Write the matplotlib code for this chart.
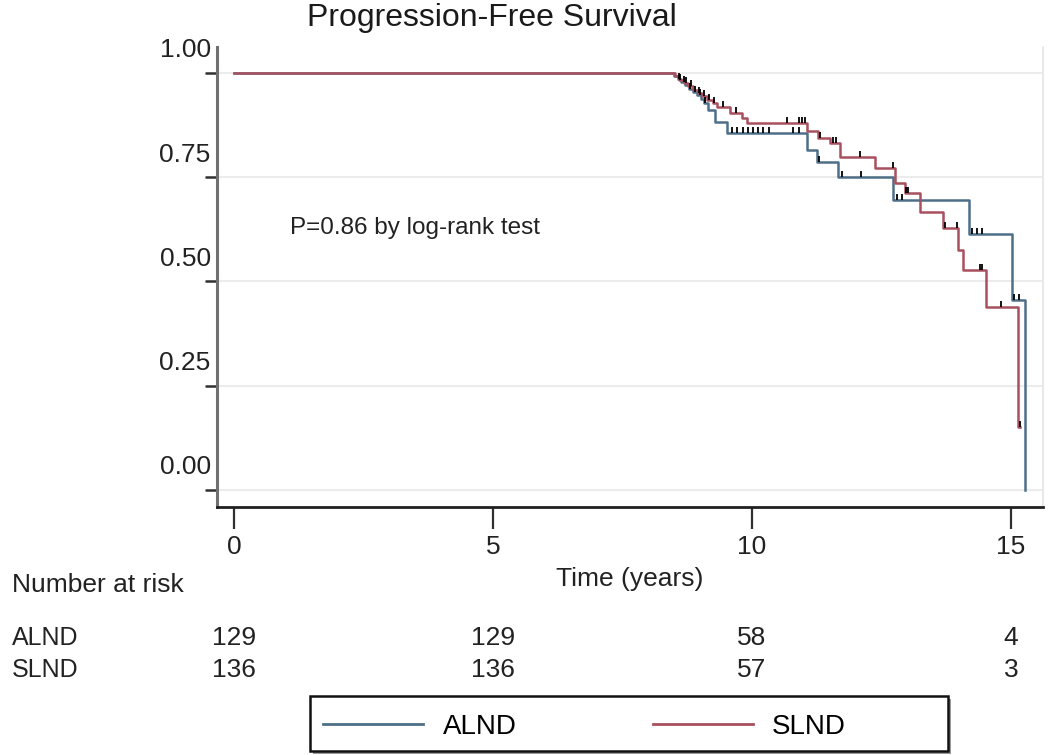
import numpy as np
import matplotlib
matplotlib.use("Agg")
import matplotlib.pyplot as plt
import matplotlib.transforms as mtransforms
from matplotlib.path import Path
from matplotlib.patches import Rectangle

plt.rcParams['font.family'] = ['Liberation Sans', 'DejaVu Sans']

# Kaplan-Meier steps (time in years, survival after the drop)
alnd_times = [8.50, 8.57, 8.63, 8.70, 8.78, 8.86, 8.94, 9.02, 9.08, 9.15, 9.29, 9.52,
              11.06, 11.25, 11.66, 12.72, 14.19, 15.02, 15.27]
alnd_surv = [0.992, 0.985, 0.977, 0.970, 0.962, 0.954, 0.946, 0.937, 0.928, 0.911, 0.882, 0.856,
             0.815, 0.787, 0.751, 0.695, 0.614, 0.456, 0.0]
alnd_end = 15.27
alnd_censor = [8.60, 8.68, 8.80, 8.90, 9.00, 9.10, 9.62, 9.72, 9.82, 9.92, 10.02, 10.12, 10.22,
               10.32, 10.80, 10.90, 11.30, 11.74, 12.10, 12.80, 12.90, 14.25, 14.35, 14.45,
               15.06, 15.16]

slnd_times = [8.52, 8.60, 8.68, 8.77, 8.86, 8.95, 9.04, 9.14, 9.24, 9.32, 9.57, 9.81, 9.90,
              11.06, 11.27, 11.51, 11.70, 12.37, 12.76, 12.95, 13.24, 13.69, 13.98, 14.07,
              14.52, 15.14]
slnd_surv = [0.992, 0.984, 0.976, 0.968, 0.960, 0.952, 0.944, 0.935, 0.927, 0.918, 0.904, 0.892,
             0.880, 0.861, 0.844, 0.832, 0.799, 0.772, 0.736, 0.712, 0.667, 0.628, 0.576, 0.528,
             0.439, 0.151]
slnd_end = 15.17
slnd_censor = [8.62, 8.72, 8.83, 8.97, 9.07, 9.17, 9.27, 9.45, 9.70, 10.67, 10.90, 10.96, 11.02,
               11.32, 11.56, 11.62, 12.08, 12.72, 12.97, 13.02, 13.73, 13.96, 14.40, 14.45,
               14.80, 15.17]

risk_times = [0, 5, 10, 15]
alnd_risk = [129, 129, 58, 4]
slnd_risk = [136, 136, 57, 3]

blue = '#4d6f88'
red = '#a8505f'
txt = '#222222'

fig = plt.figure(figsize=(10.5, 7.55), dpi=100)
ax = fig.add_axes([217 / 1050, 1 - 507 / 755, (1043 - 217) / 1050, (507 - 47) / 755])

tick_mark = Path([(0, 0), (0, 1)])


def draw_curve(times, surv, end, censor, color, label):
    t = np.concatenate([[0.0], times, [end]])
    s = np.concatenate([[1.0], surv, [surv[-1]]])
    ax.step(t, s, where='post', color=color, lw=1.8, label=label, zorder=3)
    idx = np.searchsorted(t, censor, side='right') - 1
    ax.plot(censor, s[idx], linestyle='none', marker=tick_mark, ms=9,
            mec='black', mew=1.3, zorder=4)


draw_curve(alnd_times, alnd_surv, alnd_end, alnd_censor, blue, 'ALND')
draw_curve(slnd_times, slnd_surv, slnd_end, slnd_censor, red, 'SLND')

ax.set_xlim(-0.33, 15.62)
ax.set_ylim(-0.041, 1.062)
ax.set_yticks([0, 0.25, 0.5, 0.75, 1.0])
ax.set_yticklabels(['0.00', '0.25', '0.50', '0.75', '1.00'])
ax.set_xticks([0, 5, 10, 15])
ax.grid(axis='y', color='#ececec', lw=1.5, zorder=0)
ax.grid(axis='x', visible=False)

ax.spines['top'].set_visible(False)
ax.spines['right'].set_color('#e4e4e4')
ax.spines['right'].set_linewidth(1.2)
ax.spines['left'].set_color('#707070')
ax.spines['left'].set_linewidth(2.2)
ax.spines['bottom'].set_color('#202020')
ax.spines['bottom'].set_linewidth(2.0)

ax.tick_params(axis='y', length=9, width=1.8, color='#303030', labelsize=19,
               labelcolor=txt, pad=2)
ax.tick_params(axis='x', length=16, width=1.6, color='#303030', labelsize=19,
               labelcolor=txt, pad=4)

# labels sit above their ticks in the original
shift = mtransforms.ScaledTranslation(0.09, 0.25, fig.dpi_scale_trans)
for lab in ax.get_yticklabels():
    lab.set_transform(lab.get_transform() + shift)

ax.set_xlabel('Time (years)', fontsize=19, color=txt, labelpad=6)

ax.text(1.08, 0.628, 'P=0.86 by log-rank test', fontsize=17.5, color=txt,
        ha='left', va='center')

fig.text(492 / 1050, 1 - 18 / 755, 'Progression-Free Survival', fontsize=23,
         ha='center', va='center', color='#1a1a1a')

# number at risk table
trans = mtransforms.blended_transform_factory(ax.transData, fig.transFigure)
fig.text(12 / 1050, 1 - 585 / 755, 'Number at risk', fontsize=19, ha='left',
         va='center', color=txt)
fig.text(12 / 1050, 1 - 638 / 755, 'ALND', fontsize=18, ha='left', va='center', color=txt)
fig.text(12 / 1050, 1 - 670 / 755, 'SLND', fontsize=18, ha='left', va='center', color=txt)
for t, a, s in zip(risk_times, alnd_risk, slnd_risk):
    ax.text(t, 1 - 638 / 755, str(a), transform=trans, fontsize=19, ha='center',
            va='center', color=txt)
    ax.text(t, 1 - 670 / 755, str(s), transform=trans, fontsize=19, ha='center',
            va='center', color=txt)

# legend box with a grey drop shadow
box_x, box_y, box_w, box_h = 310 / 1050, 4 / 755, 638 / 1050, 55 / 755
fig.patches.append(Rectangle((box_x + 3 / 1050, box_y - 3 / 755), box_w, box_h,
                             transform=fig.transFigure, facecolor='0.6', edgecolor='none',
                             zorder=1))
fig.patches.append(Rectangle((box_x, box_y), box_w, box_h, transform=fig.transFigure,
                             facecolor='white', edgecolor='#111111', lw=1.8, zorder=2))
leg = fig.legend(loc='center left', bbox_to_anchor=(box_x + 5 / 1050, box_y + box_h / 2 - 3 / 755),
                 ncol=2, fontsize=20, frameon=False, handlelength=3.6,
                 handletextpad=0.7, columnspacing=4.9, borderaxespad=0,
                 borderpad=0.3)
leg.set_zorder(3)
for line in leg.get_lines():
    line.set_linewidth(2.0)

fig.savefig('out.png', dpi=100, facecolor='white')
